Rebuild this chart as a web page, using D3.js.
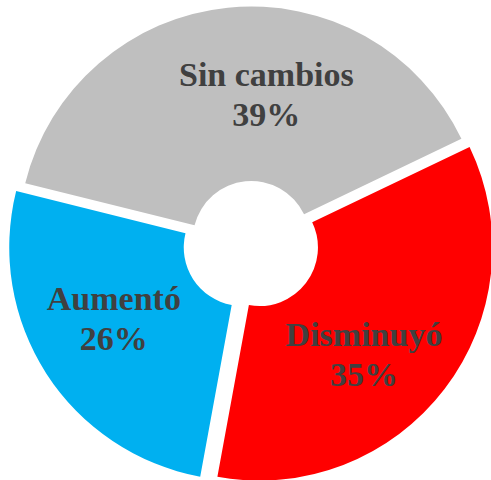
<!DOCTYPE html>
<html>
<head>
<meta charset="utf-8">
<script src="https://cdn.jsdelivr.net/npm/d3@7"></script>
<style>
  body { margin: 0; background: #fff; }
  svg { display: block; }
  .lbl { font-family: "Liberation Serif", "Times New Roman", serif; font-weight: bold; font-size: 34px; fill: #404040; }
</style>
</head>
<body>
<svg id="chart" width="491" height="480"></svg>
<script>
'use strict';

// data
const categories = ['Sin cambios', 'Disminuyó', 'Aumentó'];
const shares = [39, 35, 26];

const colors = {
  'Sin cambios': '#bfbfbf',
  'Disminuyó': '#ff0000',
  'Aumentó': '#00b0f0'
};

// how far each slice is pulled out of the ring
const explode = { 'Sin cambios': 2, 'Disminuyó': 10, 'Aumentó': 11 };

// Excel-like label nudges from the slice centroid
const nudge = {
  'Sin cambios': [30, 2],
  'Disminuyó': [-13, 17],
  'Aumentó': [-4, -9]
};

const svg = d3.select('#chart');

const cx = 251.5;
const cy = 241.5;
const outer = 233;
const inner = 58.5;

const start = -76 * Math.PI / 180;

const pie = d3.pie()
  .sort(null)
  .value(d => d.value)
  .startAngle(start)
  .endAngle(start + 2 * Math.PI);

const rows = categories.map((c, i) => ({ key: c, value: shares[i] }));
const arcs = pie(rows);

const arc = d3.arc().innerRadius(inner).outerRadius(outer);
const labelArc = d3.arc().innerRadius(148).outerRadius(148);

function shift(d) {
  const mid = (d.startAngle + d.endAngle) / 2;
  const k = explode[d.data.key];
  return [Math.sin(mid) * k, -Math.cos(mid) * k];
}

const g = svg.append('g')
  .attr('transform', 'translate(' + cx + ',' + cy + ')');

g.selectAll('path')
  .data(arcs)
  .enter().append('path')
  .attr('d', arc)
  .attr('fill', d => colors[d.data.key])
  .attr('transform', d => 'translate(' + shift(d) + ')');

const labels = g.selectAll('text')
  .data(arcs)
  .enter().append('text')
  .attr('class', 'lbl')
  .attr('text-anchor', 'middle')
  .attr('transform', d => {
    const c = labelArc.centroid(d);
    const s = shift(d);
    const n = nudge[d.data.key];
    return 'translate(' + (c[0] + s[0] + n[0]) + ',' + (c[1] + s[1] + n[1]) + ')';
  });

labels.append('tspan')
  .attr('x', 0)
  .attr('y', -8.5)
  .text(d => d.data.key);

labels.append('tspan')
  .attr('x', 0)
  .attr('y', 31.5)
  .text(d => d.data.value + '%');
</script>
</body>
</html>
